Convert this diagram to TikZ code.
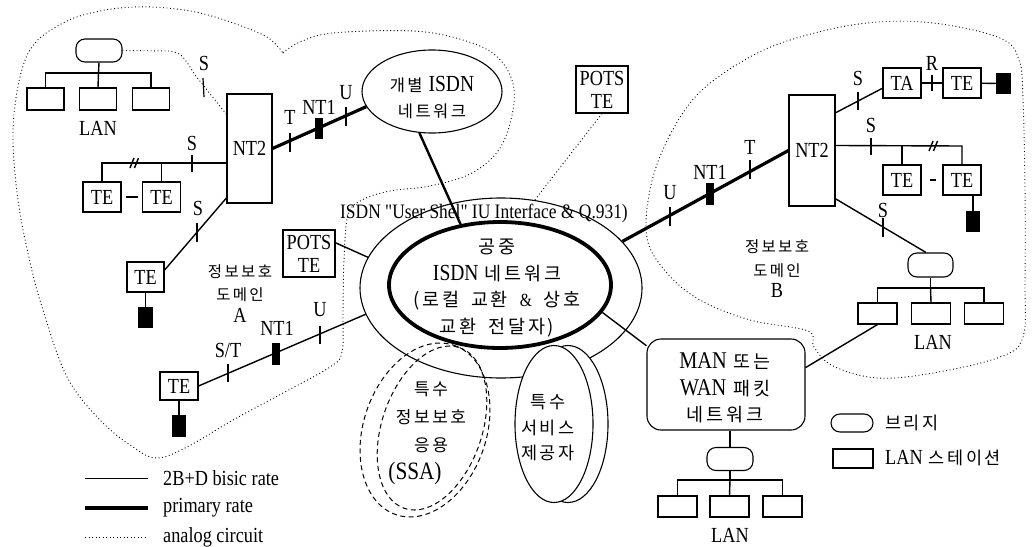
\documentclass[tikz,border=0pt]{standalone}
\usepackage{fontspec}
\setmainfont{Liberation Serif}[FakeStretch=0.85]
\newfontfamily\rawrm{Liberation Serif}[FakeStretch=0.85, Ligatures=TeXOff]
\newfontfamily\krfont{Noto Sans CJK KR}[LetterSpace=15]
\usetikzlibrary{shapes.geometric,calc}
\newcommand\latsz{\fontsize{21.5}{23}\selectfont}
\newcommand\krsz{\fontsize{15.5}{22}\selectfont\krfont}
\begin{document}
\begin{tikzpicture}[x=1pt,y=-1pt,
  basic/.style={line width=1.4pt},
  prim/.style={line width=3.2pt},
  analog/.style={line width=0.9pt, dash pattern=on 0.9pt off 2.6pt},
  ssa/.style={line width=1pt, dash pattern=on 5pt off 3.5pt},
  bx/.style={draw, line width=1.1pt, inner sep=0pt, minimum width=38pt, minimum height=30pt, font=\latsz},
  lanst/.style={draw, line width=1.1pt, inner sep=0pt, minimum width=39pt, minimum height=21pt},
  brg/.style={draw, line width=1.1pt, rounded corners=9pt, inner sep=0pt, minimum width=46pt, minimum height=23pt},
  blk/.style={fill=black, inner sep=0pt, minimum width=14pt, minimum height=21pt},
  ntone/.style={fill=black, inner sep=0pt, minimum width=8pt, minimum height=21pt},
  lbl/.style={inner sep=0pt, font=\latsz},
  kl/.style={inner sep=0pt, font=\krsz, align=center},
  tk/.style={line width=1.2pt}
]
\useasboundingbox (0,0) rectangle (1032,546);

% ---------- domain boundaries (analog) ----------
\draw[analog] plot[smooth, tension=0.6] coordinates {(283,53) (300,42) (333,33) (413,31) (463,40) (495,55) (512,80) (513,110) (500,148) (472,173) (430,186) (390,191) (362,200) (348,215) (344,260) (343,310) (342,352) (330,367) (283,393) (233,420) (187,447) (157,458) (133,447) (100,420) (67,377) (43,310) (30,262) (18,200) (13,133) (20,77) (35,43) (67,21) (100,11) (133,7) (167,8) (200,13) (233,23) (267,37) (283,53)};
\draw[analog] plot[smooth cycle, tension=0.6] coordinates {(700,92) (670,135) (651,185) (647,238) (667,273) (700,300) (750,320) (808,331) (814,347) (833,366) (877,378) (933,373) (1000,357) (1023,337) (1025,280) (1025,190) (1023,100) (1019,60) (1000,38) (933,23) (867,23) (800,37) (750,57)};

% ---------- public ISDN network ----------
\node[draw, ellipse, line width=1.1pt, minimum width=282pt, minimum height=180pt, inner sep=0pt] (pubO) at (501,288) {};
\node[draw, ellipse, line width=3.8pt, minimum width=222pt, minimum height=126pt, inner sep=0pt] (pubI) at (500,285) {};
\node[kl, font=\fontsize{18.5}{26.5}\selectfont\krfont] (pubT) at (497,288) {공중\\{\rmfamily\fontsize{23}{26.5}\selectfont ISDN}\hspace{6pt}네트워크\\(로컬\hspace{5pt} 교환\hspace{5pt} {\rmfamily\&}\hspace{5pt} 상호\\교환\hspace{5pt} 전달자)};
\node[lbl, font=\fontsize{20.5}{22}\selectfont\rawrm] (ush) at (484,213) {ISDN "User Shel" IU Interface \& Q.931)};

% ---------- special service provider ----------
\node[draw, ellipse, fill=white, line width=1.1pt, minimum width=80pt, minimum height=157pt, inner sep=0pt] (dskB) at (568,424) {};
\node[draw, ellipse, fill=white, line width=1.1pt, minimum width=78pt, minimum height=157pt, inner sep=0pt] (dskF) at (554,424) {};
\node[kl, font=\fontsize{17.5}{25.5}\selectfont\krfont] (dskT) at (548,428) {특수\\서비스\\제공자};

% ---------- SSA ----------
\draw[ssa, rotate around={71:(425,430)}] (425,430) ellipse (89.5 and 61.4);
\draw[ssa, rotate around={71:(432,428)}] (432,428) ellipse (85 and 50);
\node[kl, font=\fontsize{17}{28}\selectfont\krfont] (ssaT) at (431,417) {특수\\정보보호\\응용};
\node[lbl, font=\fontsize{25}{27}\selectfont] (ssaL) at (415,473) {(SSA)};

% ---------- individual ISDN ----------
\node[draw, ellipse, line width=1.1pt, minimum width=140pt, minimum height=83pt, inner sep=0pt] (gb) at (432,91.5) {};
\node[kl, font=\fontsize{16.5}{26}\selectfont\krfont] (gbT) at (432,98) {개별\hspace{6pt}{\rmfamily\fontsize{23}{26}\selectfont ISDN}\\네트워크};

% ---------- POTS TE ----------
\node[bx, minimum width=52pt, minimum height=47pt, align=center, font=\fontsize{21.5}{23}\selectfont] (potsA) at (309,253.5) {POTS\\TE};
\node[bx, minimum width=52pt, minimum height=47pt, align=center, font=\fontsize{21.5}{23}\selectfont] (potsB) at (602,89.5) {POTS\\TE};

% ---------- left LAN ----------
\node[brg] (brL) at (99,50.5) {};
\node[lanst, minimum width=37pt, minimum height=22pt] (lanL1) at (45.5,99) {};
\node[lanst, minimum width=37pt, minimum height=22pt] (lanL2) at (98,99) {};
\node[lanst, minimum width=37pt, minimum height=22pt] (lanL3) at (151,99) {};
\coordinate (busL) at (98.5,73);
\draw[basic] (brL.south) -- (busL);
\draw[basic] (lanL1.north) |- (busL) -| (lanL3.north);
\draw[basic] (busL) -- (lanL2.north);
\node[lbl] (lanLlab) at (98,128) {LAN};

% ---------- left NT2 and terminals ----------
\node[bx, minimum width=45pt, minimum height=109pt] (nt2L) at (249.5,148.5) {NT2};
\node[bx] (teL1) at (102,197) {TE};
\node[bx] (teL2) at (161.5,197) {TE};
\node[bx, minimum width=37pt] (teA) at (145.5,277) {TE};
\node[blk, minimum width=15pt] (bkA) at (145.5,317.5) {};
\node[bx, minimum height=28pt] (teB) at (179,386) {TE};
\node[blk, minimum height=22pt] (bkB) at (179,426) {};

\draw[analog] (brL.east) -- (170,51) .. controls (182,54) .. (195,75) -- (nt2L.124);
\coordinate (busLend) at (102,163);
\draw[basic] (nt2L.west |- busLend) -- (busLend) -- (teL1.north);
\draw[basic] (teL2.north) -- (teL2.north |- busLend);
\draw[basic, shorten >=4pt, shorten <=4pt] (teL1) -- (teL2);
\draw[basic] (130,168) -- (134,158);
\draw[basic] (134.5,168) -- (138.5,158);
\draw[basic] (teA.20) -- (nt2L.245);
\draw[basic] (teA.south) -- (bkA.north);
\draw[basic] (teB.south) -- (bkB.north);
\draw[prim] (nt2L.east) -- (gb.193);
\node[ntone] (nt1L) at (318.5,128.5) {};
\draw[basic] (teB.east) -- (pubO.191);
\node[ntone, minimum height=22pt] (nt1B) at (275.5,354) {};
\draw[basic] (potsA.22) -- (pubO.167);
\draw[line width=2.4pt] (gb.253) -- (pubI.123);
\draw[analog] (potsB.south) -- (pubO.69);

% ---------- right NT2 and terminals ----------
\node[bx, minimum width=46pt, minimum height=111pt] (nt2R) at (812,150.5) {NT2};
\node[bx] (ta) at (902,83) {TA};
\node[bx] (teT) at (962,83) {TE};
\node[blk, minimum width=15pt] (bkT) at (1003.5,83.5) {};
\node[bx] (teR1) at (902,180) {TE};
\node[bx] (teR2) at (962,180) {TE};
\node[blk] (bkR) at (973,221.5) {};
\node[brg, minimum width=45pt, minimum height=24pt] (brR) at (930.5,265) {};
\node[lanst] (lanR1) at (877.5,313.5) {};
\node[lanst] (lanR2) at (931,313.5) {};
\node[lanst] (lanR3) at (984,313.5) {};
\coordinate (busR) at (930.5,288);
\draw[basic] (brR.south) -- (busR);
\draw[basic] (lanR1.north) |- (busR) -| (lanR3.north);
\draw[basic] (busR) -- (lanR2.north);
\node[lbl] (lanRlab) at (933,342) {LAN};

\draw[prim] (pubO.21) -- (nt2R.west);
\node[ntone, minimum height=22pt] (nt1R) at (710,194) {};
\draw[basic] (nt2R.58) -- (ta.195);
\draw[basic] (ta) -- (teT);
\draw[basic] (teT) -- (bkT);
\coordinate (busRend) at (962,146);
\draw[basic] (nt2R.12) -- (busRend) -- (teR2.north);
\draw[basic] (teR1.north) -- (teR1.north |- busRend);
\draw[basic] (929,151) -- (933,141);
\draw[basic] (933.5,151) -- (937.5,141);
\draw[basic, shorten >=6pt, shorten <=8pt] (teR1) -- (teR2);
\draw[basic] (bkR.north) -- (bkR.north |- teR2.south);
\draw[basic] (nt2R.-64) -- (brR.110);

% ---------- MAN / WAN ----------
\node[draw, line width=1.1pt, rounded corners=14pt, minimum width=158pt, minimum height=91pt, inner sep=0pt] (man) at (726,384.5) {};
\node[align=center, inner sep=0pt, font=\fontsize{24}{26.5}\selectfont] (manT) at (725,388) {MAN\hspace{7pt}{\fontsize{18.5}{26.5}\selectfont\krfont 또는}\\WAN\hspace{7pt}{\fontsize{18.5}{26.5}\selectfont\krfont 패킷}\\{\fontsize{18.5}{26.5}\selectfont\krfont 네트워크}};
\draw[basic] (pubI.345) -- (man.154);
\draw[basic] (man.12) -- (lanR1.south);
\node[brg] (brM) at (730,459) {};
\draw[basic] (brM.north) -- (brM.north |- man.south);
\node[lanst] (lanM1) at (677.5,506.5) {};
\node[lanst] (lanM2) at (729.5,506.5) {};
\node[lanst] (lanM3) at (782.5,506.5) {};
\coordinate (busM) at (730,480);
\draw[basic] (brM.south) -- (busM);
\draw[basic] (lanM1.north) |- (busM) -| (lanM3.north);
\draw[basic] (busM) -- (lanM2.north);
\node[lbl] (lanMlab) at (730,535) {LAN};

% ---------- domain labels ----------
\node[kl] (dA1) at (240,272) {정보보호};
\node[kl] (dA2) at (240,295) {도메인};
\node[lbl] (dA3) at (240,315) {A};
\node[kl] (dB1) at (777,247) {정보보호};
\node[kl] (dB2) at (777,271) {도메인};
\node[lbl] (dB3) at (777,290) {B};

% ---------- interface labels and ticks ----------
\node[lbl] (sL1) at (204,63) {S};
\node[lbl] (sL2) at (192,143) {S};
\node[lbl] (sL3) at (198,208) {S};
\node[lbl] (tL) at (290,117) {T};
\node[lbl] (nt1Llab) at (319,107) {NT1};
\node[lbl] (uL) at (346,93) {U};
\node[lbl] (stB) at (228,350) {S/T};
\node[lbl] (nt1Blab) at (277,328) {NT1};
\node[lbl] (uB) at (320,310) {U};
\node[lbl] (sR1) at (858,78) {S};
\node[lbl] (rR) at (932,63) {R};
\node[lbl] (sR2) at (871,125) {S};
\node[lbl] (tR) at (750,147) {T};
\node[lbl] (nt1Rlab) at (710,172) {NT1};
\node[lbl] (uR) at (670,193) {U};
\node[lbl] (sR3) at (883,210) {S};

\draw[tk] (203,78) -- (204,97);
\draw[tk] (192,155) -- (192,172);
\draw[tk] (197,223) -- (197,242);
\draw[tk] (290,133) -- (290,152);
\draw[tk] (346,107) -- (346,126);
\draw[tk] (228,364) -- (228,382);
\draw[tk] (320,326) -- (320,344);
\draw[tk] (858,92) -- (858,110);
\draw[tk] (932,75) -- (932,91);
\draw[tk] (871,138) -- (871,155);
\draw[tk] (750,160) -- (750,179);
\draw[tk] (670,207) -- (670,226);
\draw[tk] (883,218) -- (883,237);

% ---------- legends ----------
\coordinate (lg1a) at (85,478); \coordinate (lg1b) at (148,478);
\coordinate (lg2a) at (85,508); \coordinate (lg2b) at (148,508);
\coordinate (lg3a) at (85,537); \coordinate (lg3b) at (148,537);
\draw[line width=1pt] (lg1a) -- (lg1b);
\draw[prim] (lg2a) -- (lg2b);
\draw[analog] (lg3a) -- (lg3b);
\node[lbl, anchor=west] (lg1) at (163,478) {2B+D bisic rate};
\node[lbl, anchor=west] (lg2) at (163,508) {primary rate};
\node[lbl, anchor=west] (lg3) at (163,537) {analog circuit};

\node[brg, minimum width=42pt, minimum height=18pt] (lgb) at (852,423) {};
\node[kl, anchor=west, font=\fontsize{17.5}{20}\selectfont\krfont] (lgbT) at (885,423) {브리지};
\node[lanst, minimum width=40pt, minimum height=19pt] (lgs) at (853,458.5) {};
\node[lbl, anchor=west] (lgsT) at (885,458) {LAN\hspace{6pt}{\fontsize{17.5}{20}\selectfont\krfont 스테이션}};
\end{tikzpicture}
\end{document}
